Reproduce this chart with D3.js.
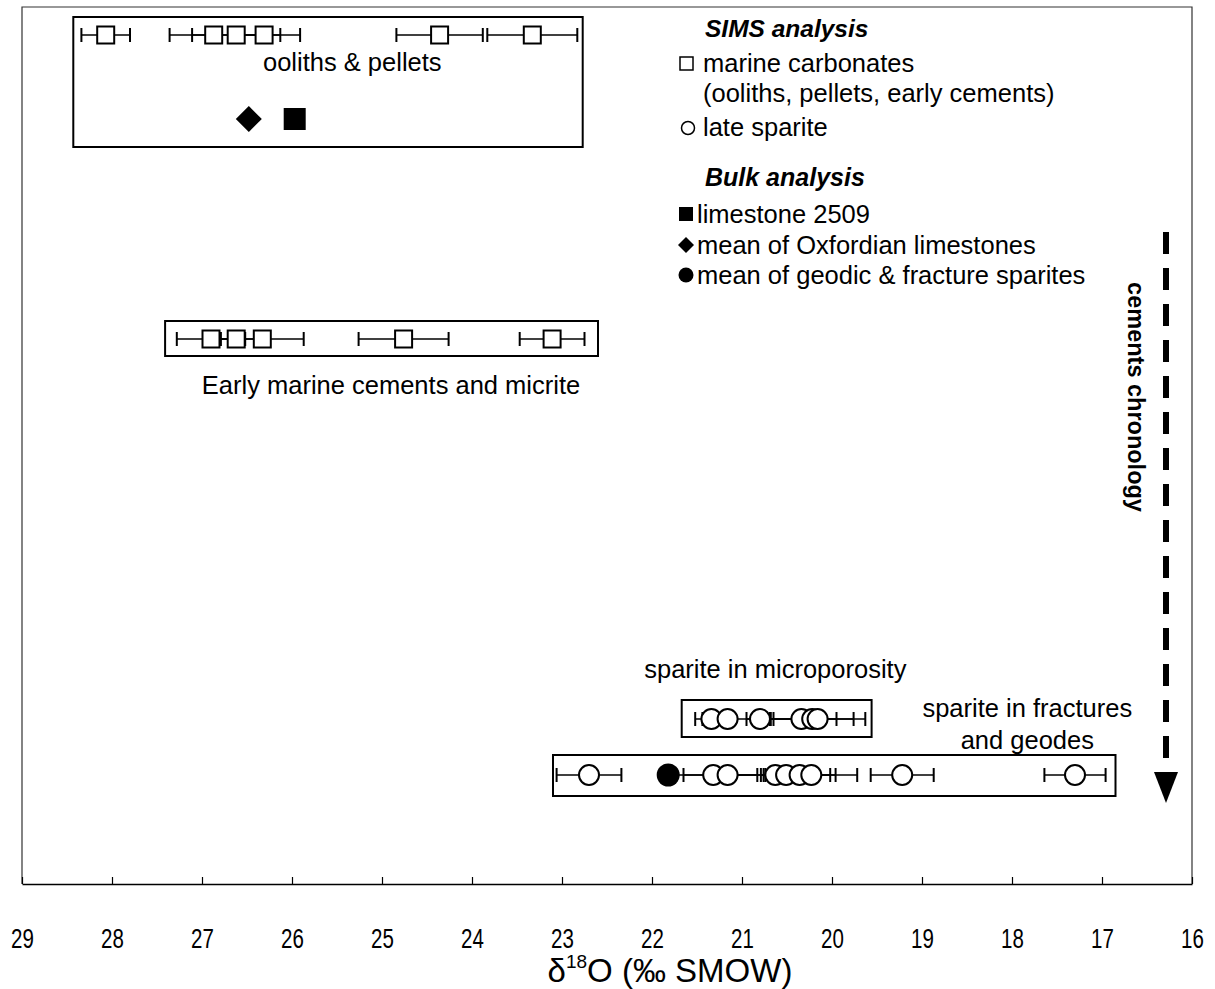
<!DOCTYPE html>
<html>
<head>
<meta charset="utf-8">
<script src="https://cdn.jsdelivr.net/npm/d3@7"></script>
<style>
  html, body { margin: 0; padding: 0; background: #fff; }
  svg { display: block; font-family: "Liberation Sans", Arial, sans-serif; }
</style>
</head>
<body>
<svg id="chart" width="1215" height="989"></svg>
<script>
// ---------------- data (δ18O ‰ SMOW) ----------------
const xTickValues = [29, 28, 27, 26, 25, 24, 23, 22, 21, 20, 19, 18, 17, 16];

// SIMS: marine carbonates (open squares)
const oolithValues = [28.07, 26.87, 26.62, 26.31, 24.36, 23.33];
const oolithErrors = [0.27, 0.49, 0.49, 0.40, 0.48, 0.50];
const cementValues = [26.90, 26.62, 26.33, 24.76, 23.11];
const cementErrors = [0.38, 0.30, 0.46, 0.50, 0.36];

// SIMS: late sparite (open circles)
const microValues = [21.34, 21.16, 20.80, 20.34, 20.22, 20.16];
const microErrors = [0.10, 0.36, 0.15, 0.39, 0.46, 0.53];
const fractureValues = [22.70, 21.32, 21.16, 20.63, 20.51, 20.36, 20.23, 19.22, 17.30];
const fractureErrors = [0.36, 0.49, 0.49, 0.61, 0.28, 0.40, 0.51, 0.35, 0.34];

// Bulk analysis
const limestone2509 = [25.97];
const oxfordianMean = [26.48];
const geodicSpariteMean = [21.82];

// Group boxes (value extents) and labels
const groupBoxes = [
  { name: "ooliths", from: 28.43, to: 22.77 },
  { name: "cements", from: 27.41, to: 22.60 },
  { name: "micro", from: 21.67, to: 19.56 },
  { name: "fracture", from: 23.10, to: 16.85 }
];
const groupLabels = [
  { text: "ooliths & pellets", at: 25.33 },
  { text: "Early marine cements and micrite", at: 24.90 },
  { text: "sparite in microporosity", at: 20.63 },
  { text: "sparite in fractures", at: 17.83 },
  { text: "and geodes", at: 17.83 }
];

// ---------------- layout ----------------
const svg = d3.select("#chart");
const plotLeft = 22, plotRight = 1192, plotTop = 7, axisY = 884;
const x = d3.scaleLinear().domain([29, 16]).range([plotLeft, plotRight]);

// row positions (pixel layout)
const rowY = { ooliths: 35, bulk: 119, cements: 339, micro: 719, fracture: 775 };
const boxY = {
  ooliths: [17, 147], cements: [321, 356], micro: [700, 737], fracture: [755, 796]
};
const labelY = [62, 385, 669, 708, 740];

// frame
svg.append("path")
  .attr("d", `M${plotLeft},${axisY} L${plotLeft},${plotTop} L${plotRight},${plotTop} L${plotRight},${axisY}`)
  .attr("fill", "none").attr("stroke", "#333").attr("stroke-width", 1.2);

// axis
const axis = d3.axisBottom(x)
  .tickValues(xTickValues)
  .tickFormat(d3.format("d"))
  .tickSizeInner(-7).tickSizeOuter(0).tickPadding(45);
const ag = svg.append("g").attr("transform", `translate(0,${axisY})`).call(axis);
ag.select(".domain").attr("stroke", "#000").attr("stroke-width", 1.5);
ag.selectAll(".tick line").attr("stroke", "#000").attr("stroke-width", 1.2);
ag.selectAll(".tick text")
  .attr("font-size", 27).attr("fill", "#000")
  .attr("transform", "scale(0.76,1)")
  .attr("font-family", "'Liberation Sans', Arial, sans-serif");

// axis title
const title = svg.append("text")
  .attr("x", 670).attr("y", 982)
  .attr("text-anchor", "middle").attr("font-size", 33).attr("fill", "#000");
title.append("tspan").text("δ");
title.append("tspan").attr("font-size", 19).attr("dy", -14).text("18");
title.append("tspan").attr("dy", 14).text("O (‰ SMOW)");

// group boxes
groupBoxes.forEach(b => {
  const [y0, y1] = boxY[b.name];
  svg.append("rect")
    .attr("x", x(b.from)).attr("y", y0)
    .attr("width", x(b.to) - x(b.from)).attr("height", y1 - y0)
    .attr("fill", "none").attr("stroke", "#000").attr("stroke-width", 2);
});

// group labels
groupLabels.forEach((l, i) => {
  svg.append("text")
    .attr("x", x(l.at)).attr("y", labelY[i]).attr("dy", "0.35em")
    .attr("text-anchor", "middle").attr("font-size", 25.5).attr("fill", "#000")
    .text(l.text);
});

// error bars
function errorBars(values, errors, y) {
  const g = svg.append("g");
  values.forEach((v, i) => {
    const lo = x(v + errors[i]), hi = x(v - errors[i]);
    g.append("line").attr("x1", lo).attr("x2", hi).attr("y1", y).attr("y2", y)
      .attr("stroke", "#000").attr("stroke-width", 1.6);
    [lo, hi].forEach(px => {
      g.append("line").attr("x1", px).attr("x2", px).attr("y1", y - 7).attr("y2", y + 7)
        .attr("stroke", "#000").attr("stroke-width", 2);
    });
  });
}
function squares(values, y, s) {
  svg.append("g").selectAll("rect").data(values).join("rect")
    .attr("x", d => x(d) - s / 2).attr("y", y - s / 2)
    .attr("width", s).attr("height", s)
    .attr("fill", "#fff").attr("stroke", "#000").attr("stroke-width", 2);
}
function circles(values, y, r) {
  svg.append("g").selectAll("circle").data(values).join("circle")
    .attr("cx", d => x(d)).attr("cy", y).attr("r", r)
    .attr("fill", "#fff").attr("stroke", "#000").attr("stroke-width", 2);
}

errorBars(oolithValues, oolithErrors, rowY.ooliths);
squares(oolithValues, rowY.ooliths, 17);
errorBars(cementValues, cementErrors, rowY.cements);
squares(cementValues, rowY.cements, 17);
errorBars(microValues, microErrors, rowY.micro);
circles(microValues, rowY.micro, 10);
errorBars(fractureValues, fractureErrors, rowY.fracture);
circles(fractureValues, rowY.fracture, 10);

// bulk markers
svg.append("g").selectAll("rect").data(limestone2509).join("rect")
  .attr("x", d => x(d) - 11).attr("y", rowY.bulk - 11)
  .attr("width", 22).attr("height", 22).attr("fill", "#000");
svg.append("g").selectAll("path").data(oxfordianMean).join("path")
  .attr("transform", d => `translate(${x(d)},${rowY.bulk})`)
  .attr("d", "M0,-13 L13,0 L0,13 L-13,0 Z").attr("fill", "#000");
svg.append("g").selectAll("circle").data(geodicSpariteMean).join("circle")
  .attr("cx", d => x(d)).attr("cy", rowY.fracture).attr("r", 11.5).attr("fill", "#000");

// legend
const lg = svg.append("g").attr("font-size", 25.5).attr("fill", "#000");
const lx = 703;
lg.append("text").attr("x", lx + 2).attr("y", 28).attr("dy", "0.35em").attr("font-size", 24.5)
  .attr("font-weight", "bold").attr("font-style", "italic").text("SIMS analysis");
lg.append("rect").attr("x", 680).attr("y", 57).attr("width", 13).attr("height", 13)
  .attr("fill", "#fff").attr("stroke", "#000").attr("stroke-width", 1.5);
lg.append("text").attr("x", lx).attr("y", 63).attr("dy", "0.35em").text("marine carbonates");
lg.append("text").attr("x", lx).attr("y", 93).attr("dy", "0.35em").text("(ooliths, pellets, early cements)");
lg.append("circle").attr("cx", 688).attr("cy", 128).attr("r", 6.5)
  .attr("fill", "#fff").attr("stroke", "#000").attr("stroke-width", 1.5);
lg.append("text").attr("x", lx).attr("y", 127).attr("dy", "0.35em").text("late sparite");
lg.append("text").attr("x", lx + 2).attr("y", 177).attr("dy", "0.35em").attr("font-size", 25)
  .attr("font-weight", "bold").attr("font-style", "italic").text("Bulk analysis");
lg.append("rect").attr("x", 679).attr("y", 207).attr("width", 14).attr("height", 14).attr("fill", "#000");
lg.append("text").attr("x", 697).attr("y", 214).attr("dy", "0.35em").text("limestone 2509");
lg.append("path").attr("transform", "translate(686,245)")
  .attr("d", "M0,-8 L8,0 L0,8 L-8,0 Z").attr("fill", "#000");
lg.append("text").attr("x", 697).attr("y", 245).attr("dy", "0.35em").text("mean of Oxfordian limestones");
lg.append("circle").attr("cx", 686).attr("cy", 275).attr("r", 7.5).attr("fill", "#000");
lg.append("text").attr("x", 697).attr("y", 275).attr("dy", "0.35em").text("mean of geodic & fracture sparites");

// cements chronology arrow
svg.append("line").attr("x1", 1166).attr("x2", 1166).attr("y1", 232).attr("y2", 768)
  .attr("stroke", "#000").attr("stroke-width", 6).attr("stroke-dasharray", "22,14");
svg.append("path").attr("d", "M1154,772 L1178,772 L1166,803 Z").attr("fill", "#000");
svg.append("text")
  .attr("transform", "translate(1136,397) rotate(90)")
  .attr("text-anchor", "middle").attr("dy", "0.35em")
  .attr("font-size", 23.5).attr("font-weight", "bold").attr("fill", "#000")
  .text("cements chronology");
</script>
</body>
</html>
